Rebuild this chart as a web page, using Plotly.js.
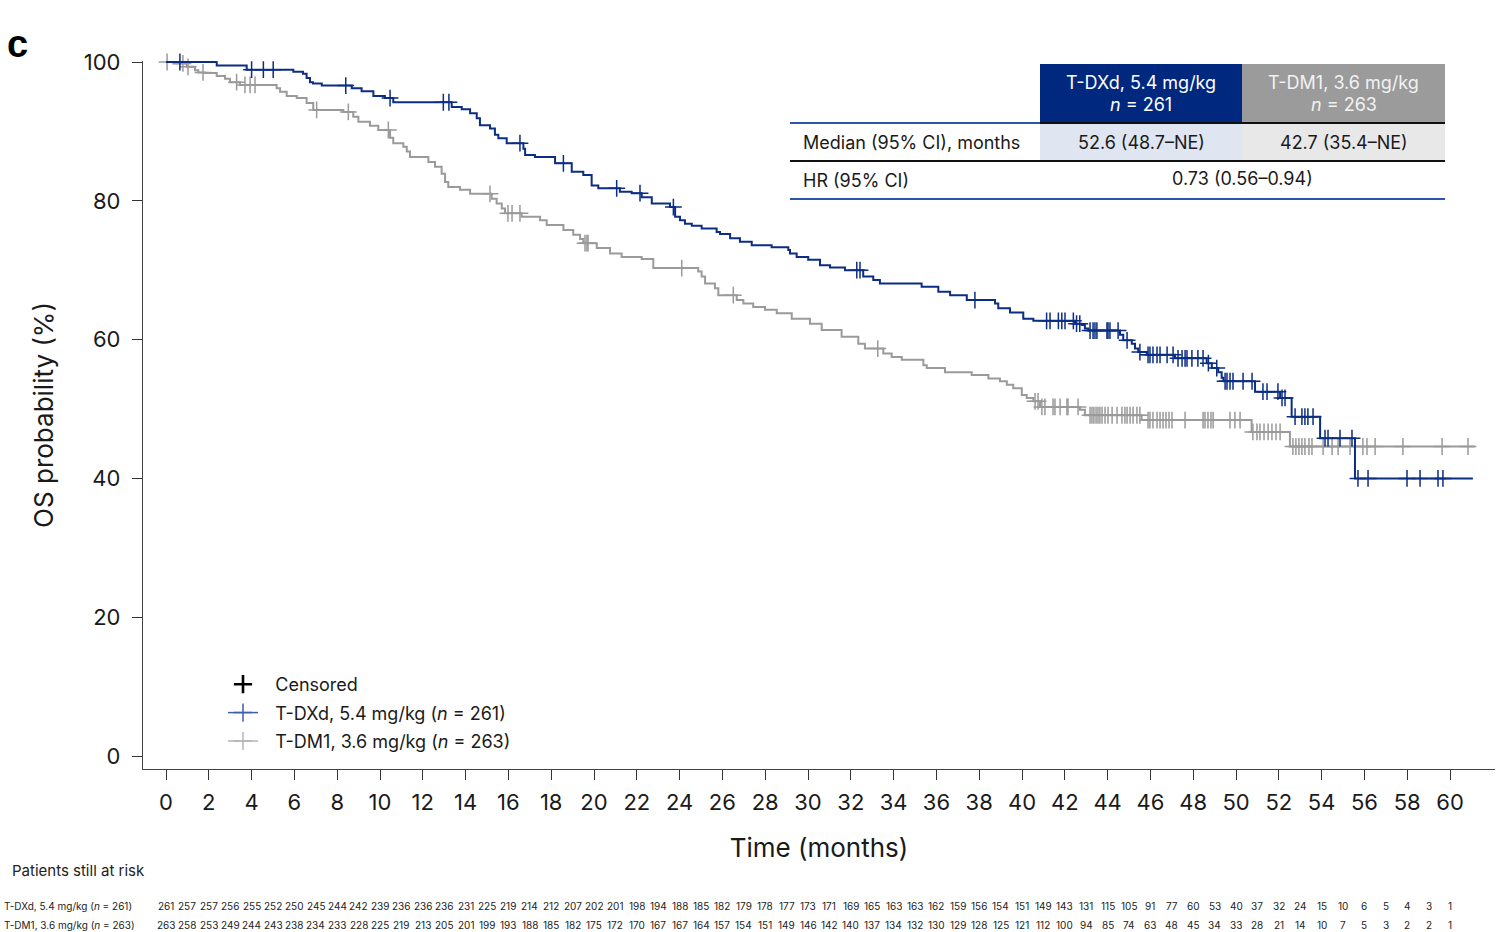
<!DOCTYPE html>
<html>
<head>
<meta charset="utf-8">
<script src="https://cdn.plot.ly/plotly-3.0.1.min.js"></script>
<style>
html,body{margin:0;padding:0;background:#fff;}
#chart{width:1498px;height:932px;}
</style>
</head>
<body>
<div id="chart"></div>
<script>
// ---------------- DATA ----------------
// T-DXd Kaplan-Meier steps: event times (months) and OS probability (%) after each step
const dxdTimes = [0, 2.37, 3.77, 5.95, 6.40, 6.57, 6.73, 6.87, 7.28, 8.68, 9.14, 9.69, 10.23, 10.62, 13.35, 13.82, 14.21, 14.52, 14.67, 15.14, 15.37, 15.53, 15.92, 16.70, 16.78, 17.24, 18.18, 18.96, 19.50, 19.89, 20.20, 21.21, 21.76, 22.23, 22.70, 23.55, 23.79, 24.02, 24.25, 24.57, 25.03, 25.73, 25.89, 26.36, 26.82, 27.37, 28.30, 29.08, 29.16, 29.47, 30.01, 30.56, 31.03, 31.73, 32.58, 33.05, 33.36, 35.31, 36.09, 36.64, 37.42, 38.74, 38.89, 39.44, 40.06, 40.53, 42.48, 42.79, 42.94, 43.10, 44.58, 44.73, 45.13, 45.28, 45.43, 45.83, 47.15, 48.63, 48.87, 49.17, 49.33, 49.41, 50.89, 52.06, 52.60, 53.93, 55.56];
const dxdSurv = [100, 99.5, 98.9, 98.6, 98.3, 97.7, 97.1, 96.9, 96.6, 96.2, 95.8, 95.1, 94.8, 94.2, 93.5, 93.2, 92.6, 91.9, 90.9, 90.4, 89.5, 89.0, 88.3, 87.5, 86.6, 86.3, 85.4, 84.2, 83.7, 82.2, 81.8, 81.3, 81.1, 80.5, 79.6, 79.1, 77.7, 77.2, 76.7, 76.4, 76.0, 75.5, 75.2, 74.6, 74.1, 73.6, 73.3, 72.9, 72.4, 71.9, 71.5, 70.7, 70.4, 70.0, 69.1, 68.6, 68.1, 67.6, 66.9, 66.4, 65.7, 65.2, 64.5, 63.9, 63.0, 62.7, 62.3, 62.1, 61.6, 61.3, 60.7, 59.9, 59.4, 58.7, 58.2, 57.8, 57.3, 56.6, 55.9, 55.3, 54.5, 54.0, 52.5, 51.6, 48.9, 45.8, 40.0];
const dxdLastFollowUp = 61.07;
const dxdCensor = [0.65, 4.00, 4.55, 5.01, 8.40, 10.47, 12.96, 13.22, 16.54, 18.57, 21.06, 22.15, 23.71, 32.28, 32.43, 37.80, 41.15, 41.31, 41.70, 41.86, 42.01, 42.40, 42.55, 42.70, 43.18, 43.32, 43.41, 43.50, 43.97, 44.02, 44.11, 44.49, 44.91, 45.51, 45.89, 45.98, 46.12, 46.31, 46.45, 46.78, 47.06, 47.29, 47.48, 47.62, 47.71, 47.94, 48.22, 48.46, 48.71, 49.10, 49.49, 49.58, 49.72, 49.86, 50.33, 50.75, 51.26, 51.45, 51.96, 52.15, 52.29, 52.76, 53.08, 53.22, 53.36, 53.60, 54.16, 54.30, 54.86, 55.42, 55.70, 56.17, 57.99, 58.60, 59.44, 59.67];

// T-DM1 Kaplan-Meier steps
const dm1Times = [0, 0.34, 0.97, 1.36, 1.51, 1.82, 2.37, 2.76, 2.99, 3.46, 5.17, 5.33, 5.64, 6.11, 6.57, 6.88, 8.29, 8.75, 8.99, 9.53, 9.92, 10.47, 10.62, 11.09, 11.25, 11.40, 12.26, 12.57, 12.88, 13.04, 13.19, 13.74, 14.21, 15.22, 15.45, 15.69, 15.84, 16.62, 17.48, 17.79, 18.57, 19.03, 19.35, 19.50, 20.13, 20.75, 21.29, 22.23, 22.77, 24.87, 25.03, 25.19, 25.65, 25.81, 26.67, 26.98, 27.44, 27.99, 28.54, 29.24, 30.09, 30.64, 31.57, 32.35, 32.66, 33.52, 33.91, 34.38, 35.39, 35.55, 36.40, 37.65, 38.43, 38.97, 39.29, 39.59, 39.99, 40.22, 40.53, 40.84, 42.71, 42.94, 45.59, 50.73, 52.52];
const dm1Surv = [100, 99.8, 99.3, 98.8, 98.5, 98.4, 98.0, 97.6, 97.1, 96.7, 96.2, 95.7, 95.1, 94.8, 94.1, 93.1, 92.8, 92.1, 91.4, 90.8, 90.2, 89.1, 88.3, 87.8, 87.1, 86.3, 85.6, 84.9, 83.9, 82.7, 82.0, 81.6, 81.0, 80.3, 79.6, 78.9, 78.2, 77.7, 77.2, 76.5, 75.8, 75.1, 74.5, 73.9, 73.2, 72.4, 71.9, 71.6, 70.3, 69.8, 69.1, 68.1, 67.4, 66.4, 65.7, 65.2, 64.7, 64.3, 63.8, 63.0, 62.3, 61.4, 60.4, 59.4, 58.7, 58.0, 57.5, 57.1, 56.3, 55.9, 55.3, 54.9, 54.4, 54.0, 53.5, 53.0, 52.0, 51.6, 51.1, 50.3, 49.9, 49.1, 48.4, 46.7, 44.6];
const dm1LastFollowUp = 61.16;
const dm1Censor = [0.05, 0.79, 1.03, 1.73, 3.30, 3.69, 3.93, 4.16, 7.04, 8.52, 10.39, 15.14, 15.98, 16.17, 16.54, 19.58, 19.67, 19.72, 24.10, 26.51, 33.26, 40.61, 40.75, 40.93, 41.07, 41.45, 41.54, 41.78, 42.10, 42.15, 42.62, 43.18, 43.27, 43.36, 43.46, 43.55, 43.64, 43.74, 43.88, 44.02, 44.21, 44.44, 44.67, 44.81, 44.91, 45.05, 45.19, 45.37, 45.51, 45.89, 45.98, 46.12, 46.31, 46.45, 46.59, 46.73, 46.87, 47.01, 47.62, 48.46, 48.55, 48.69, 48.83, 48.93, 49.72, 49.95, 50.19, 50.79, 50.98, 51.12, 51.31, 51.50, 51.68, 51.87, 52.06, 52.66, 52.80, 52.94, 53.08, 53.22, 53.41, 53.55, 54.07, 54.49, 54.77, 55.33, 55.93, 56.12, 56.50, 57.80, 59.63, 60.84];

// Patients still at risk
const riskMonths = [0, 1, 2, 3, 4, 5, 6, 7, 8, 9, 10, 11, 12, 13, 14, 15, 16, 17, 18, 19, 20, 21, 22, 23, 24, 25, 26, 27, 28, 29, 30, 31, 32, 33, 34, 35, 36, 37, 38, 39, 40, 41, 42, 43, 44, 45, 46, 47, 48, 49, 50, 51, 52, 53, 54, 55, 56, 57, 58, 59, 60];
const dxdRisk = [261, 257, 257, 256, 255, 252, 250, 245, 244, 242, 239, 236, 236, 236, 231, 225, 219, 214, 212, 207, 202, 201, 198, 194, 188, 185, 182, 179, 178, 177, 173, 171, 169, 165, 163, 163, 162, 159, 156, 154, 151, 149, 143, 131, 115, 105, 91, 77, 60, 53, 40, 37, 32, 24, 15, 10, 6, 5, 4, 3, 1];
const dm1Risk = [263, 258, 253, 249, 244, 243, 238, 234, 233, 228, 225, 219, 213, 205, 201, 199, 193, 188, 185, 182, 175, 172, 170, 167, 167, 164, 157, 154, 151, 149, 146, 142, 140, 137, 134, 132, 130, 129, 128, 125, 121, 112, 100, 94, 85, 74, 63, 48, 45, 34, 33, 28, 21, 14, 10, 7, 5, 3, 2, 2, 1];

// Axis ticks
const xTicks = [0, 2, 4, 6, 8, 10, 12, 14, 16, 18, 20, 22, 24, 26, 28, 30, 32, 34, 36, 38, 40, 42, 44, 46, 48, 50, 52, 54, 56, 58, 60];
const yTicks = [0, 20, 40, 60, 80, 100];

// Names and summary table
const armNames = ['T-DXd, 5.4 mg/kg (<i>n</i> = 261)', 'T-DM1, 3.6 mg/kg (<i>n</i> = 263)'];
const censoredLabel = 'Censored';
const tableHeadDrug = ['T-DXd, 5.4 mg/kg', 'T-DM1, 3.6 mg/kg'];
const tableHeadN = ['<i>n</i> = 261', '<i>n</i> = 263'];
const tableRowLabels = ['Median (95% CI), months', 'HR (95% CI)'];
const tableMedians = ['52.6 (48.7–NE)', '42.7 (35.4–NE)'];
const tableHR = '0.73 (0.56–0.94)';

// ---------------- STYLE / GEOMETRY ----------------
const BLUE = '#0b2d84';
const GRAY = '#9a9a9a';
const FONT = 'Inter, "Noto Sans", Roboto, sans-serif';
const W = 1498, H = 932;
const PL = 143, PR = 1495, PT = 61, PB = 769;   // plot area in px
const X0PX = 166, XPXPERMONTH = 21.4;           // month 0 position & scale
const Y0PX = 756, YPXPERPCT = 6.94;             // 0% position & scale
const xRange = [(PL - X0PX) / XPXPERMONTH, (PR - X0PX) / XPXPERMONTH];
const yRange = [(Y0PX - PB) / YPXPERPCT, (Y0PX - PT) / YPXPERPCT];
const pxX = x => (x - PL) / (PR - PL);
const pxY = y => (PB - y) / (PB - PT);
const LEGEND_PAD = '\u2002\u2009';   // extra gap between legend symbol and label

function survAt(times, surv, t) {
  let s = surv[0];
  for (let i = 0; i < times.length; i++) { if (times[i] <= t) s = surv[i]; else break; }
  return s;
}

function kmTrace(times, surv, lastT, color) {
  return {
    x: times.concat([lastT]), y: surv.concat([surv[surv.length - 1]]),
    type: 'scatter', mode: 'lines', line: {shape: 'hv', color: color, width: 2},
    showlegend: false, hoverinfo: 'skip'
  };
}
function censorTrace(cens, times, surv, color) {
  return {
    x: cens, y: cens.map(t => survAt(times, surv, t)),
    type: 'scatter', mode: 'markers', cliponaxis: false,
    marker: {symbol: 'cross-thin', size: 12, color: color, line: {color: color, width: 1.5}},
    showlegend: false, hoverinfo: 'skip'
  };
}

const traces = [
  kmTrace(dm1Times, dm1Surv, dm1LastFollowUp, GRAY),
  censorTrace(dm1Censor, dm1Times, dm1Surv, GRAY),
  kmTrace(dxdTimes, dxdSurv, dxdLastFollowUp, BLUE),
  censorTrace(dxdCensor, dxdTimes, dxdSurv, BLUE),
  // legend entries
  {x: [null], y: [null], type: 'scatter', mode: 'markers', name: LEGEND_PAD + censoredLabel, legendrank: 1, legendgroup: 'g1',
   marker: {symbol: 'cross-thin', size: 13, color: '#000', line: {color: '#000', width: 2.6}}},
  {x: [null], y: [null], type: 'scatter', mode: 'lines+markers', name: LEGEND_PAD + armNames[0], legendrank: 2, legendgroup: 'g2',
   line: {color: '#3d5fa8', width: 1.5}, marker: {symbol: 'cross-thin', size: 13, color: '#3d5fa8', line: {color: '#3d5fa8', width: 1.5}}},
  {x: [null], y: [null], type: 'scatter', mode: 'lines+markers', name: LEGEND_PAD + armNames[1], legendrank: 3, legendgroup: 'g3',
   line: {color: '#b5b5b5', width: 1.5}, marker: {symbol: 'cross-thin', size: 13, color: '#b5b5b5', line: {color: '#b5b5b5', width: 1.5}}}
];

// ---------------- ANNOTATIONS & SHAPES ----------------
const annotations = [];
const shapes = [];
const T = {xL: 790, c1L: 1040, c1R: 1242, c2R: 1445, yTop: 64, yH: 123, yR1: 161, yR2: 199};

// header cells
shapes.push({type: 'rect', xref: 'paper', yref: 'paper', x0: pxX(T.c1L), x1: pxX(T.c1R), y0: pxY(T.yH), y1: pxY(T.yTop), fillcolor: '#00287f', line: {width: 0}, layer: 'below'});
shapes.push({type: 'rect', xref: 'paper', yref: 'paper', x0: pxX(T.c1R), x1: pxX(T.c2R), y0: pxY(T.yH), y1: pxY(T.yTop), fillcolor: '#9b9b9b', line: {width: 0}, layer: 'below'});
// median cells
shapes.push({type: 'rect', xref: 'paper', yref: 'paper', x0: pxX(T.c1L), x1: pxX(T.c1R), y0: pxY(T.yR1), y1: pxY(T.yH), fillcolor: '#e0e6f1', line: {width: 0}, layer: 'below'});
shapes.push({type: 'rect', xref: 'paper', yref: 'paper', x0: pxX(T.c1R), x1: pxX(T.c2R), y0: pxY(T.yR1), y1: pxY(T.yH), fillcolor: '#e8e8e8', line: {width: 0}, layer: 'below'});
// rules
shapes.push({type: 'line', xref: 'paper', yref: 'paper', x0: pxX(T.xL), x1: pxX(T.c1L), y0: pxY(T.yH), y1: pxY(T.yH), line: {color: '#2b55a8', width: 2}});
shapes.push({type: 'line', xref: 'paper', yref: 'paper', x0: pxX(T.c1L), x1: pxX(T.c2R), y0: pxY(T.yH), y1: pxY(T.yH), line: {color: '#111', width: 2}});
shapes.push({type: 'line', xref: 'paper', yref: 'paper', x0: pxX(T.xL), x1: pxX(T.c2R), y0: pxY(T.yR1), y1: pxY(T.yR1), line: {color: '#111', width: 2}});
shapes.push({type: 'line', xref: 'paper', yref: 'paper', x0: pxX(T.xL), x1: pxX(T.c2R), y0: pxY(T.yR2), y1: pxY(T.yR2), line: {color: '#2b55a8', width: 2}});

const tf = (size, color) => ({family: FONT, size: size, color: color});
const colCenters = [(T.c1L + T.c1R) / 2, (T.c1R + T.c2R) / 2];
const headColors = ['#ffffff', '#f2f2f2'];
for (let i = 0; i < 2; i++) {
  annotations.push({xref: 'paper', yref: 'paper', x: pxX(colCenters[i]), y: pxY(82), text: tableHeadDrug[i], showarrow: false, xanchor: 'center', yanchor: 'middle', font: tf(18, headColors[i])});
  annotations.push({xref: 'paper', yref: 'paper', x: pxX(colCenters[i]), y: pxY(104), text: tableHeadN[i], showarrow: false, xanchor: 'center', yanchor: 'middle', font: tf(18, headColors[i])});
  annotations.push({xref: 'paper', yref: 'paper', x: pxX(colCenters[i]), y: pxY(142), text: tableMedians[i], showarrow: false, xanchor: 'center', yanchor: 'middle', font: tf(18, '#1a1a1a')});
}
annotations.push({xref: 'paper', yref: 'paper', x: pxX(801), y: pxY(142), text: tableRowLabels[0], showarrow: false, xanchor: 'left', yanchor: 'middle', font: tf(18, '#1a1a1a')});
annotations.push({xref: 'paper', yref: 'paper', x: pxX(801), y: pxY(180), text: tableRowLabels[1], showarrow: false, xanchor: 'left', yanchor: 'middle', font: tf(18, '#1a1a1a')});
annotations.push({xref: 'paper', yref: 'paper', x: pxX(T.c1R), y: pxY(179), text: tableHR, showarrow: false, xanchor: 'center', yanchor: 'middle', font: tf(18, '#1a1a1a')});

// panel label
annotations.push({xref: 'paper', yref: 'paper', x: pxX(5), y: pxY(44), text: '<b>c</b>', showarrow: false, xanchor: 'left', yanchor: 'middle', font: {family: '"Liberation Sans", Arial, sans-serif', size: 38, color: '#000', weight: 900}});

// risk table
annotations.push({xref: 'paper', yref: 'paper', x: pxX(10), y: pxY(870), text: 'Patients still at risk', showarrow: false, xanchor: 'left', yanchor: 'middle', font: tf(15, '#222')});
const riskRowsY = [906, 925];
const riskRows = [dxdRisk, dm1Risk];
for (let r = 0; r < 2; r++) {
  annotations.push({xref: 'paper', yref: 'paper', x: pxX(2), y: pxY(riskRowsY[r]), text: armNames[r], showarrow: false, xanchor: 'left', yanchor: 'middle', font: tf(10, '#222')});
  riskRows[r].forEach((v, i) => {
    annotations.push({xref: 'x', yref: 'paper', x: riskMonths[i], y: pxY(riskRowsY[r]), text: String(v), showarrow: false, xanchor: 'center', yanchor: 'middle', font: tf(10, '#222')});
  });
}

const layout = {
  width: W, height: H,
  margin: {l: PL, r: W - PR, t: PT, b: H - PB, pad: 0},
  paper_bgcolor: '#fff', plot_bgcolor: '#fff',
  font: {family: FONT, color: '#222'},
  showlegend: true,
  legend: {x: pxX(223), y: pxY(666), xanchor: 'left', yanchor: 'top', bgcolor: 'rgba(0,0,0,0)',
           font: {family: FONT, size: 18, color: '#1a1a1a'}, itemwidth: 30, traceorder: 'grouped', tracegroupgap: 2},
  xaxis: {range: xRange, tickmode: 'array', tickvals: xTicks, ticktext: xTicks.map(String),
          ticks: 'outside', ticklen: 10, tickwidth: 1.3, tickcolor: '#333', ticklabelstandoff: 3,
          showline: true, linecolor: '#444', linewidth: 1.3, showgrid: false, zeroline: false,
          tickfont: {family: FONT, size: 22, color: '#1a1a1a'},
          title: {text: 'Time (months)', font: {family: FONT, size: 26, color: '#1a1a1a'}, standoff: 25}},
  yaxis: {range: yRange, tickmode: 'array', tickvals: yTicks, ticktext: yTicks.map(String),
          ticks: 'outside', ticklen: 10, tickwidth: 1.3, tickcolor: '#333', ticklabelstandoff: 7,
          showline: true, linecolor: '#444', linewidth: 1.3, showgrid: false, zeroline: false,
          tickfont: {family: FONT, size: 22, color: '#1a1a1a'},
          title: {text: 'OS probability (%)', font: {family: FONT, size: 26, color: '#1a1a1a'}, standoff: 22}},
  shapes: shapes,
  annotations: annotations
};

Plotly.newPlot('chart', traces, layout, {displayModeBar: false, responsive: false});
</script>
</body>
</html>
